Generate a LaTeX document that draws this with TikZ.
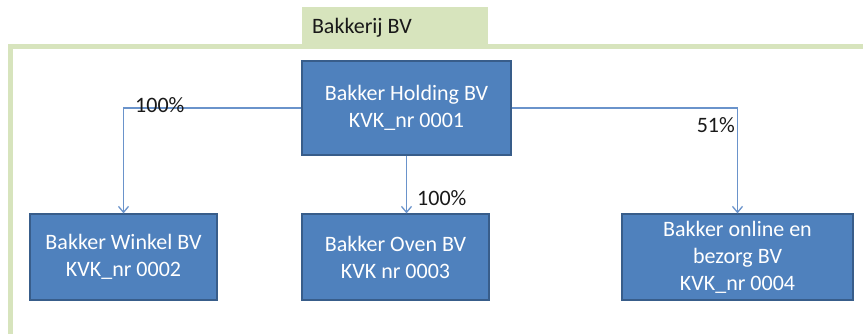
\documentclass[tikz,border=0pt]{standalone}
\usepackage{fontspec}
\setmainfont{Carlito}
\usepackage{tikz}
\usetikzlibrary{arrows.meta,positioning,calc}

\definecolor{boxblue}{HTML}{4F81BD}
\definecolor{boxedge}{HTML}{385D8A}
\definecolor{linkblue}{HTML}{6A93CB}
\definecolor{groupgreen}{HTML}{D7E4BD}

\begin{document}
\begin{tikzpicture}[
    x=1pt, y=-1pt,
    company/.style = {rectangle, draw=boxedge, line width=1.2pt, fill=boxblue, text=white, align=center, minimum height=86pt, font=\fontsize{22}{27}\selectfont},
    link/.style = {draw=linkblue, line width=1.3pt, -{Straight Barb[length=6pt,width=10pt]}},
    share/.style = {inner sep=0pt, text=black!90, font=\fontsize{22}{27}\selectfont},
    tab/.style = {rectangle, fill=groupgreen, minimum width=186pt, minimum height=42pt}
]
    \useasboundingbox (0,0) rectangle (863,334);
    % group frame
    \draw[groupgreen, line width=5pt] (10.5,340) |- (870,46.5);
    \node[tab, label={[share, anchor=west, xshift=10pt]west:Bakkerij BV}] (group) at (395,28) {};
    % companies
    \node[company, minimum width=209pt, minimum height=94pt] (holding) at (406.5,108) {Bakker Holding BV\\KVK\_nr 0001};
    \node[company, minimum width=187pt] (winkel) at (123.5,257) {Bakker Winkel BV\\KVK\_nr 0002};
    \node[company, minimum width=187pt] (oven) at (395.5,257) {Bakker Oven BV\\KVK nr 0003};
    \node[company, minimum width=231pt] (online) at (737.5,257) {Bakker online en\\bezorg BV\\KVK\_nr 0004};
    % shares
    \draw[link] (holding.west) -| (winkel.north);
    \draw[link] (holding.south) -- (holding.south |- oven.north);
    \draw[link] (holding.east) -| (online.north);
    \node[share, anchor=west] (pwinkel) at (135,105) {100\%};
    \node[share, anchor=west] (poven) at (417,198) {100\%};
    \node[share, anchor=east] (ponline) at (735,125) {51\%};
\end{tikzpicture}
\end{document}
